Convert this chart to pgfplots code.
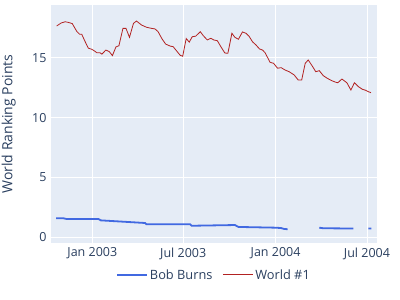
\documentclass[border=0pt]{standalone}
\usepackage{pgfplots}
\pgfplotsset{compat=1.18}
\usepackage{fontspec}
\setmainfont{Open Sans}
\definecolor{plotbg}{HTML}{E5ECF6}
\definecolor{txt}{HTML}{2A3F5F}
\definecolor{bobblue}{HTML}{4169E1}
\definecolor{worldred}{HTML}{B22222}
\begin{document}
\begin{tikzpicture}[x=1bp,y=1bp]
\useasboundingbox (-51bp,-57bp) rectangle (349bp,243bp);
\begin{axis}[
  at={(0,0)}, anchor=south west,
  scale only axis, width=326bp, height=238bp,
  xmin=-82.3, xmax=567, ymin=-0.47, ymax=19.4,
  axis background/.style={fill=plotbg},
  axis line style={draw=none},
  major tick length=0pt,
  grid=major, grid style={white, line width=0.8bp},
  xtick={0,181,365,547},
  xticklabels={Jan 2003,Jul 2003,Jan 2004,Jul 2004},
  ytick={0,5,10,15},
  /pgf/number format/assume math mode=true,
  tick label style={font=\fontsize{12.5bp}{14bp}\selectfont, text=txt},
  xticklabel style={yshift=-1bp},
  yticklabel style={xshift=-1bp},
  ylabel={World Ranking Points},
  ylabel style={font=\fontsize{14bp}{16bp}\selectfont, text=txt, at={(axis description cs:-0.13,0.5)}, anchor=center},
  unbounded coords=jump,
  legend columns=2,
  legend style={at={(0.5,-0.134)}, anchor=center, draw=none, fill=none,
    font=\fontsize{12.8bp}{14bp}\selectfont, text=txt,
    /tikz/every even column/.append style={column sep=8bp}},
  legend image code/.code={\draw[#1] (0bp,0bp) -- (30bp,0bp);},
]
\addplot[bobblue, line width=1.8bp] coordinates {
(-72,1.59) (-58,1.60) (-52,1.54) (12,1.54) (17,1.42) (105,1.20) (108,1.09)
(195,1.09) (198,0.97) (284,1.03) (291,0.87) (364,0.81) (376,0.78) (382,0.70) (389,0.68)
(420,nan)
(452,0.81) (460,0.76) (520,0.74)
(535,nan)
(550,0.74) (556,0.74)
};
\addlegendentry{Bob Burns}
\addplot[worldred, line width=0.8bp] coordinates {
(-71,17.65) (-62,17.9) (-54,18.0) (-48,17.95) (-40,17.85) (-31,17.2) (-25,16.95) (-21,16.95)
(-15,16.4) (-8,15.8) (-1,15.7) (3,15.6) (9,15.42) (15,15.42) (19,15.3) (27,15.64)
(34,15.5) (40,15.17) (47,15.9) (53,16.0) (61,17.45) (67,17.45) (74,16.7) (82,17.87)
(88,18.06) (98,17.73) (108,17.54) (118,17.45) (125,17.4) (131,17.17) (139,16.56) (146,16.14)
(155,15.97) (161,15.92) (168,15.56) (175,15.2) (180,15.12) (187,16.6) (193,16.3) (199,16.75)
(206,16.8) (215,17.17) (221,16.84) (229,16.48) (236,16.62) (242,16.48) (249,16.42) (256,15.92)
(264,15.39) (270,15.37) (278,17.04) (284,16.7) (291,16.54) (299,17.15) (306,17.04) (312,16.8)
(319,16.33) (326,16.06) (333,15.73) (339,15.64) (344,15.42) (354,14.62) (361,14.53) (369,14.12)
(376,14.17) (384,13.97) (392,13.83) (402,13.56) (410,13.14) (417,13.14) (424,14.53) (430,14.81)
(438,14.31) (445,13.83) (452,13.92) (460,13.5) (468,13.28) (477,13.08) (485,12.95) (489,12.91)
(497,13.22) (507,12.91) (515,12.3) (522,12.91) (530,12.58) (538,12.36) (543,12.3) (550,12.16)
(555,12.08)
};
\addlegendentry{World \#1}
\end{axis}
\end{tikzpicture}
\end{document}
